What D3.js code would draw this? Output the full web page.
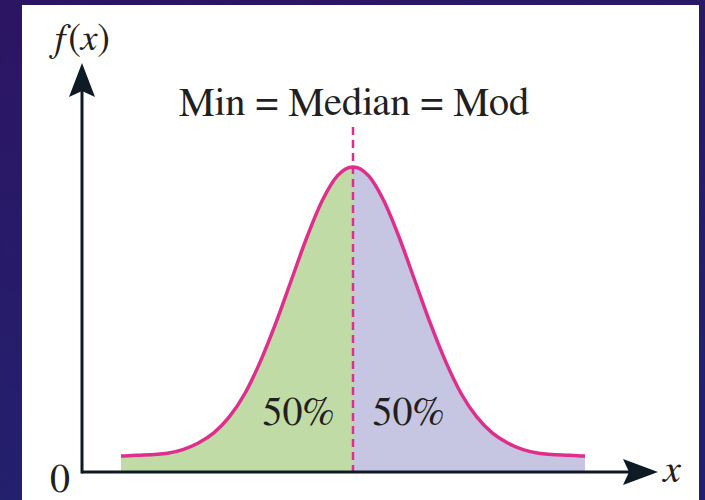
<!DOCTYPE html>
<html>
<head>
<meta charset="utf-8">
<script src="https://cdn.jsdelivr.net/npm/d3@7/dist/d3.min.js"></script>
<style>
  html, body { margin: 0; padding: 0; background: #261a66; }
  svg { display: block; }
</style>
</head>
<body>
<svg id="chart" width="705" height="500"></svg>
<script>
// ---- Data ----
// x in standard units, f(x) heights (curve sits slightly above the axis at its tails)
const xValues  = [-3.75, -3.5, -3.0, -2.75, -2.5, -2.25, -2.0, -1.75, -1.5, -1.25, -1.0, -0.75, -0.5, -0.25, 0,
                  0.25, 0.5, 0.75, 1.0, 1.25, 1.5, 1.75, 2.0, 2.25, 2.5, 2.75, 3.0, 3.5, 3.75];
const fxValues = [0.022, 0.023, 0.026, 0.031, 0.040, 0.054, 0.076, 0.108, 0.152, 0.205, 0.264, 0.323, 0.374, 0.409, 0.421,
                  0.409, 0.374, 0.323, 0.264, 0.205, 0.152, 0.108, 0.076, 0.054, 0.040, 0.031, 0.026, 0.023, 0.022];
const centerValue = 0;             // Mean = Median = Mode
const shareLabels = ["50%", "50%"];
const titleText = "Min = Median = Mod";
const xAxisLabel = "x";
const originLabel = "0";

// ---- Layout ----
const W = 705, H = 500;
const svg = d3.select("#chart");

const defs = svg.append("defs");
const grad = defs.append("linearGradient").attr("id", "bg")
  .attr("x1", "0").attr("y1", "0").attr("x2", "0.3").attr("y2", "1");
grad.append("stop").attr("offset", "0").attr("stop-color", "#2c1563");
grad.append("stop").attr("offset", "1").attr("stop-color", "#22216f");
svg.append("rect").attr("width", W).attr("height", H).attr("fill", "url(#bg)");

// white panel
svg.append("rect").attr("x", 22).attr("y", 5).attr("width", 677).attr("height", 500).attr("fill", "#ffffff");

const x = d3.scaleLinear().domain([-3.75, 3.75]).range([121, 585]);
const y = d3.scaleLinear().domain([0, 0.421]).range([472, 167]);

const pts = xValues.map((v, i) => ({ x: v, f: fxValues[i] }));
const leftPts = pts.filter(d => d.x <= centerValue);
const rightPts = pts.filter(d => d.x >= centerValue);

const area = d3.area().x(d => x(d.x)).y0(y(0)).y1(d => y(d.f)).curve(d3.curveMonotoneX);
const line = d3.line().x(d => x(d.x)).y(d => y(d.f)).curve(d3.curveMonotoneX);

svg.append("path").datum(leftPts).attr("d", area).attr("fill", "#c1dba7");
svg.append("path").datum(rightPts).attr("d", area).attr("fill", "#c6c6e2");

// dashed center line
svg.append("line")
  .attr("x1", x(centerValue)).attr("x2", x(centerValue))
  .attr("y1", 127).attr("y2", y(0))
  .attr("stroke", "#de2f8c").attr("stroke-width", 2.5)
  .attr("stroke-dasharray", "8,5");

// curve
svg.append("path").datum(pts).attr("d", line)
  .attr("fill", "none").attr("stroke", "#de2f8c").attr("stroke-width", 3.5);

// axes
const axisColor = "#0e1a24";
const ax0 = 82, ay0 = y(0);
svg.append("line").attr("x1", ax0).attr("x2", 640).attr("y1", ay0).attr("y2", ay0)
  .attr("stroke", axisColor).attr("stroke-width", 3);
svg.append("line").attr("x1", ax0).attr("x2", ax0).attr("y1", ay0 + 1.5).attr("y2", 80)
  .attr("stroke", axisColor).attr("stroke-width", 3);
// arrow heads
svg.append("path")
  .attr("d", `M${ax0},63 L${ax0 - 13},97 L${ax0},91 L${ax0 + 13},97 Z`)
  .attr("fill", axisColor);
svg.append("path")
  .attr("d", `M658,${ay0} L623,${ay0 - 13} L629,${ay0} L623,${ay0 + 13} Z`)
  .attr("fill", axisColor);

const serif = "FreeSerif, 'Liberation Serif', 'Times New Roman', serif";
const ink = "#231f20";

svg.append("text").attr("x", 354).attr("y", 115)
  .attr("text-anchor", "middle").attr("font-family", serif).attr("font-size", 40.5)
  .attr("fill", ink).text(titleText);

svg.append("text").attr("x", 298.5).attr("y", 425)
  .attr("text-anchor", "middle").attr("font-family", serif).attr("font-size", 40)
  .attr("fill", ink).text(shareLabels[0]);
svg.append("text").attr("x", 408.5).attr("y", 425)
  .attr("text-anchor", "middle").attr("font-family", serif).attr("font-size", 40)
  .attr("fill", ink).text(shareLabels[1]);

// f(x): italic letters, upright parentheses
const fx = svg.append("text").attr("x", 81).attr("y", 50)
  .attr("text-anchor", "middle").attr("font-family", serif).attr("font-size", 38).attr("fill", ink);
fx.append("tspan").attr("font-style", "italic").text("f");
fx.append("tspan").text("(");
fx.append("tspan").attr("font-style", "italic").text("x");
fx.append("tspan").text(")");

svg.append("text").attr("x", 672).attr("y", 482)
  .attr("text-anchor", "middle").attr("font-family", serif).attr("font-size", 40)
  .attr("font-style", "italic").attr("fill", ink).text(xAxisLabel);

svg.append("text").attr("x", 60).attr("y", 492)
  .attr("text-anchor", "middle").attr("font-family", serif).attr("font-size", 40)
  .attr("fill", ink).text(originLabel);
</script>
</body>
</html>
